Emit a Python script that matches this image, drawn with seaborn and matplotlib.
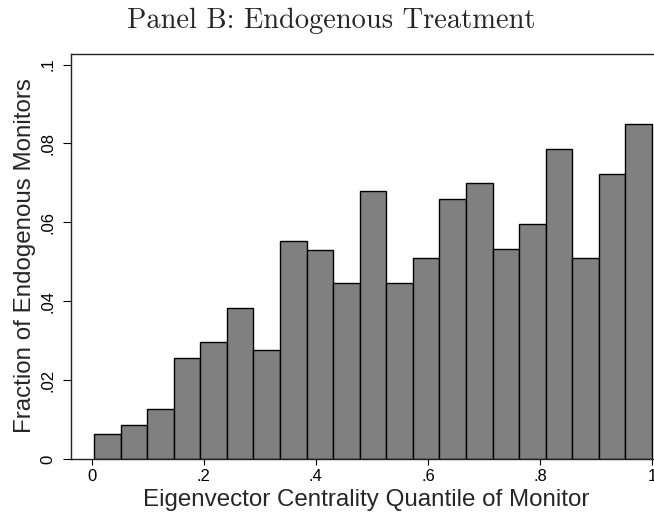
import numpy as np
import pandas as pd
import matplotlib
matplotlib.use("Agg")
import matplotlib.pyplot as plt
import seaborn as sns

# ---- data ----
bin_lo = 0.004
bin_hi = 1.0
n_bins = 21
fractions = [0.0065, 0.0086, 0.0127, 0.0257, 0.0298, 0.0382, 0.0277,
             0.0552, 0.0531, 0.0447, 0.0680, 0.0447, 0.0511, 0.0659,
             0.0701, 0.0532, 0.0595, 0.0786, 0.0511, 0.0723, 0.0849]
x_ticks = [0, 0.2, 0.4, 0.6, 0.8, 1.0]
x_tick_labels = ["0", ".2", ".4", ".6", ".8", "1"]
y_ticks = [0, 0.02, 0.04, 0.06, 0.08, 0.1]
y_tick_labels = ["0", ".02", ".04", ".06", ".08", ".1"]
title = "Panel B: Endogenous Treatment"
xlabel = "Eigenvector Centrality Quantile of Monitor"
ylabel = "Fraction of Endogenous Monitors"

df = pd.DataFrame({
    "q": (np.linspace(bin_lo, bin_hi, n_bins + 1)[:-1]
          + np.linspace(bin_lo, bin_hi, n_bins + 1)[1:]) / 2,
    "frac": fractions,
})

sns.set_style("white")
plt.rcParams["font.family"] = ["Liberation Sans", "DejaVu Sans"]

W, H = 654, 516
fig = plt.figure(figsize=(W / 100, H / 100), dpi=100)
ax = fig.add_axes([70.7 / W, 1 - 459.3 / H, (W - 70.7) / W, (459.3 - 54) / H])

sns.histplot(data=df, x="q", weights="frac", bins=n_bins, binrange=(bin_lo, bin_hi),
             stat="count", color="#808080", alpha=1.0, edgecolor="black",
             linewidth=1.0, ax=ax)

ax.set_xlim(-0.0375, 1.0035)
ax.set_ylim(0, 0.10266)

ax.set_xticks(x_ticks)
ax.set_xticklabels(x_tick_labels, fontsize=12)
ax.set_yticks(y_ticks)
ax.set_yticklabels(y_tick_labels, fontsize=12, rotation=90, va="center")
ax.tick_params(axis="x", direction="out", length=4, width=0.8, pad=3, colors="black")
ax.tick_params(axis="y", direction="out", length=6, width=0.8, pad=5, colors="black")
ax.xaxis.set_ticks_position("bottom")
ax.yaxis.set_ticks_position("left")

for side in ["left", "top", "bottom"]:
    ax.spines[side].set_visible(True)
    ax.spines[side].set_color("#222222")
    ax.spines[side].set_linewidth(1.0)
ax.spines["right"].set_visible(False)

ax.set_xlabel("")
ax.set_ylabel("")
fig.text(366 / W, 1 - 506 / H, xlabel, ha="center", va="baseline", fontsize=17.4)
fig.text(25 / W, 1 - 256 / H, ylabel, ha="center", va="center", rotation=90, fontsize=17.4)
fig.text(331 / W, 1 - 28 / H, title, ha="center", va="baseline", fontsize=20.5,
         family=["cmr10", "DejaVu Serif"])

fig.savefig("out.png", dpi=100)
